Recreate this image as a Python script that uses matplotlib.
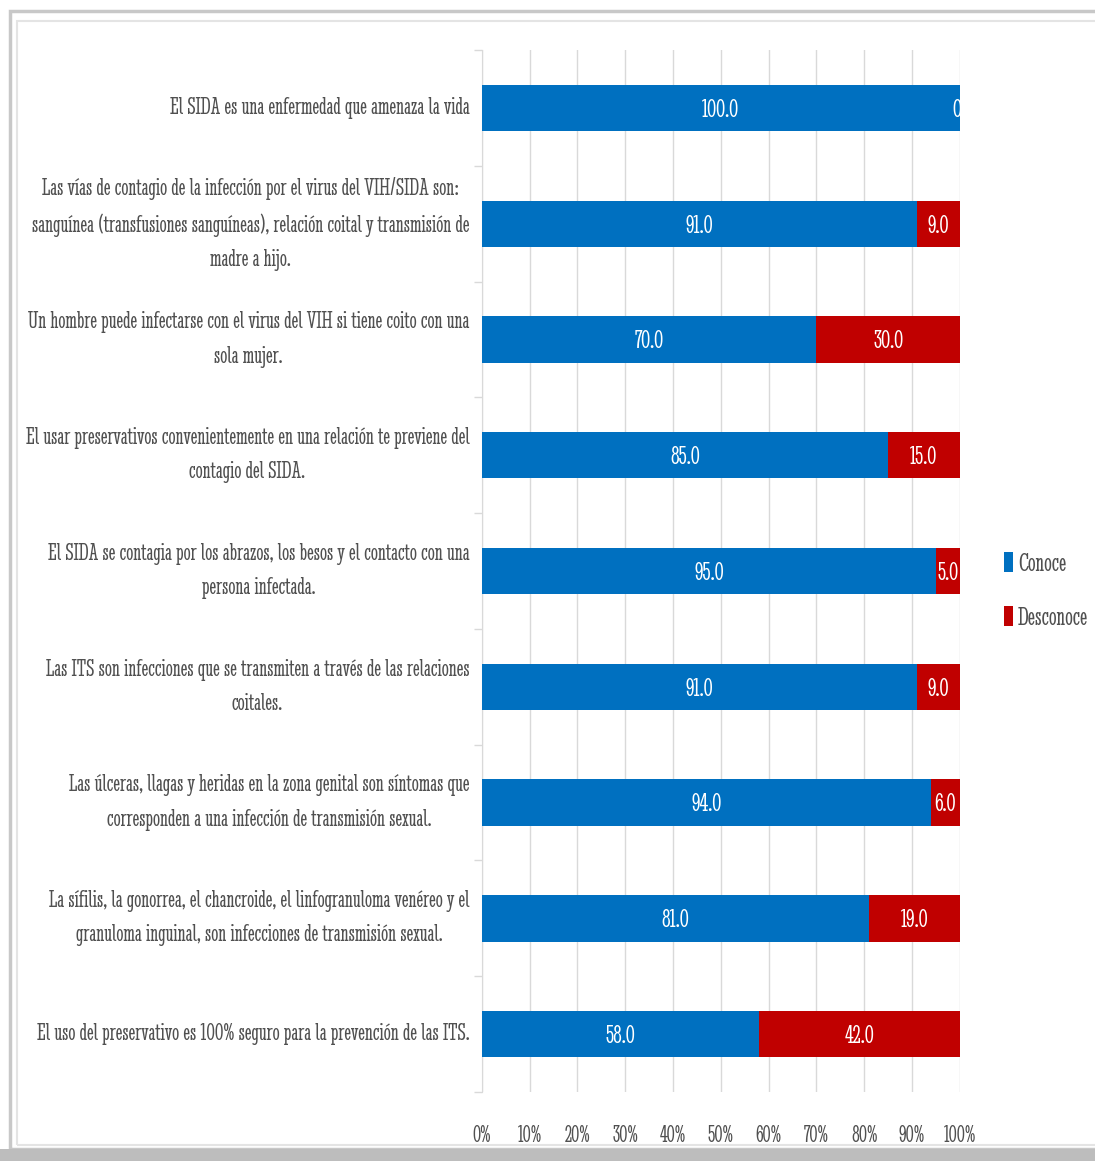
import matplotlib
matplotlib.use("Agg")
import matplotlib.pyplot as plt
from matplotlib.patches import Rectangle
import numpy as np

# ── data ──────────────────────────────────────────────────────────────────────
categories = [
    "El SIDA es una enfermedad que amenaza la vida",
    "Las vías de contagio de la infección por el virus del VIH/SIDA son:\n"
    "sanguínea (transfusiones sanguíneas), relación coital y transmisión de\n"
    "madre a hijo.",
    "Un hombre puede infectarse con el virus del VIH si tiene coito con una\n"
    "sola mujer.",
    "El usar preservativos convenientemente en una relación te previene del\n"
    "contagio del SIDA.",
    "El SIDA se contagia por los abrazos, los besos y el contacto con una\n"
    "persona infectada.",
    "Las ITS son infecciones que se transmiten a través de las relaciones\n"
    "coitales.",
    "Las úlceras, llagas y heridas en la zona genital son síntomas que\n"
    "corresponden a una infección de transmisión sexual.",
    "La sífilis, la gonorrea, el chancroide, el linfogranuloma venéreo y el\n"
    "granuloma inguinal, son infecciones de transmisión sexual.",
    "El uso del preservativo es 100% seguro para la prevención de las ITS.",
]
conoce = [100.0, 91.0, 70.0, 85.0, 95.0, 91.0, 94.0, 81.0, 58.0]
desconoce = [0.0, 9.0, 30.0, 15.0, 5.0, 9.0, 6.0, 19.0, 42.0]
xticks = [0, 10, 20, 30, 40, 50, 60, 70, 80, 90, 100]

BLUE = "#0070C0"
RED = "#C00000"
GREY = "#505050"

plt.rcParams["font.family"] = ["Stint Ultra Condensed", "DejaVu Serif"]

fig = plt.figure(figsize=(10.95, 11.61), dpi=100)
ax = fig.add_axes([0.440, 0.0594, 0.4365, 0.8975])

y = np.arange(len(categories))
ax.barh(y, conoce, height=0.4, color=BLUE, label="Conoce", zorder=3)
ax.barh(y, desconoce, left=conoce, height=0.4, color=RED, label="Desconoce", zorder=3)

# value labels inside the segments
for yi, c, d in zip(y, conoce, desconoce):
    ax.text(c / 2, yi + 0.02, f"{c:.1f}", color="white", ha="center", va="center",
            fontsize=19.5, zorder=4)
    d_txt = f"{d:.1f}" if d > 0 else "0"
    ax.text(c + d / 2 if d > 0 else 99.3, yi + 0.02, d_txt, color="white", ha="center",
            va="center", fontsize=19.5, zorder=4, clip_on=True)

ax.set_xlim(0, 100)
ax.set_ylim(len(categories) - 0.5, -0.5)
ax.set_xticks(xticks)
ax.set_xticklabels([f"{t}%" for t in xticks], fontsize=17.5, color=GREY)
ax.tick_params(axis="x", length=0, pad=24)

ax.set_yticks(y)
ax.set_yticklabels(categories, fontsize=18.3, color=GREY, multialignment="center",
                   linespacing=1.72)
for lab in ax.get_yticklabels():
    lab.set_verticalalignment("center")
ax.tick_params(axis="y", length=0, pad=9)
# category separators on the left axis
ax.set_yticks(np.arange(-0.5, len(categories), 1), minor=True)
ax.tick_params(axis="y", which="minor", length=6, color="#D9D9D9", width=1)

ax.grid(axis="x", color="#D9D9D9", linewidth=1, zorder=0)
for s in ["top", "right", "bottom"]:
    ax.spines[s].set_visible(False)
ax.spines["left"].set_color("#D9D9D9")

fig.legend(loc="center left", bbox_to_anchor=(0.895, 0.491), frameon=False,
           fontsize=19.5, handlelength=0.3, handleheight=0.75, handletextpad=0.2,
           labelspacing=1.1, labelcolor=GREY)

# outer frame with a soft inner border
fig.patches.append(Rectangle((10 / 1095, 12 / 1161), 1.2, 1 - 23 / 1161,
                             transform=fig.transFigure, fill=False,
                             edgecolor="#C8C8C8", linewidth=2.5))
fig.patches.append(Rectangle((17 / 1095, 16 / 1161), 1.2, 1 - 37 / 1161,
                             transform=fig.transFigure, fill=False,
                             edgecolor="#E4E4E4", linewidth=1.5))
fig.patches.append(Rectangle((0, 0), 1, 12 / 1161, transform=fig.transFigure,
                             facecolor="#BDBDBD", edgecolor="none"))

fig.savefig("out.png", dpi=100)
